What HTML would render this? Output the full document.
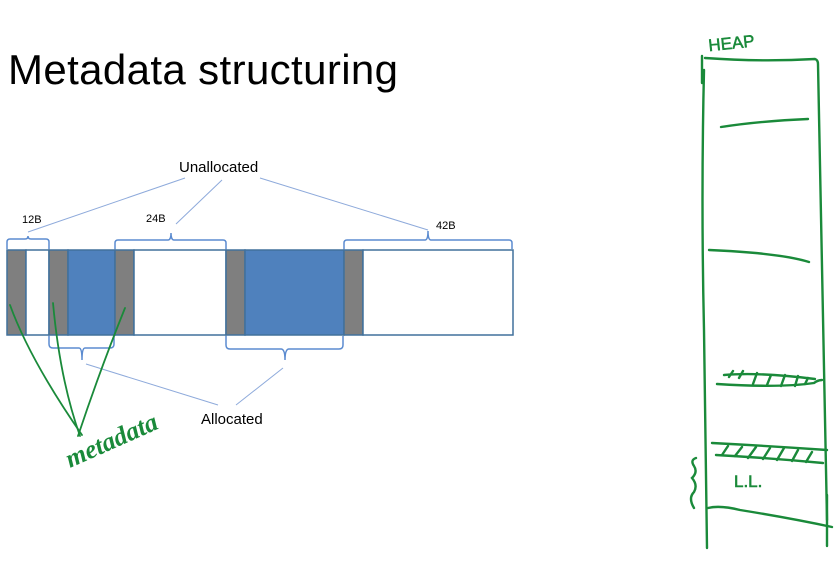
<!DOCTYPE html>
<html><head><style>
html,body{margin:0;padding:0;background:#fff;}
svg{display:block;}
</style></head><body>
<svg width="834" height="565" viewBox="0 0 834 565" xmlns="http://www.w3.org/2000/svg" font-family="Liberation Sans, sans-serif">
<text x="8" y="84" font-size="42" fill="#000" textLength="390">Metadata structuring</text>
<!-- bar -->
<g stroke="#41719c" stroke-width="1.5">
<rect x="7" y="250" width="19" height="85" fill="#7f7f7f"/>
<rect x="26" y="250" width="23" height="85" fill="#fff"/>
<rect x="49" y="250" width="19" height="85" fill="#7f7f7f"/>
<rect x="68" y="250" width="47" height="85" fill="#4f81bd"/>
<rect x="115" y="250" width="19" height="85" fill="#7f7f7f"/>
<rect x="134" y="250" width="92" height="85" fill="#fff"/>
<rect x="226" y="250" width="19" height="85" fill="#7f7f7f"/>
<rect x="245" y="250" width="99" height="85" fill="#4f81bd"/>
<rect x="344" y="250" width="19" height="85" fill="#7f7f7f"/>
<rect x="363" y="250" width="150" height="85" fill="#fff"/>
</g>
<g fill="none" stroke="#5b8bd0" stroke-width="1.5">
<path d="M7,249 V242 Q7,239 10,239 H25 Q28,239 28,236 Q28,239 31,239 H46 Q49,239 49,242 V249"/>
<path d="M115,249 V243 Q115,240 118,240 H168 Q171,240 171,233 Q171,240 174,240 H223 Q226,240 226,243 V249"/>
<path d="M344,249 V243 Q344,240 347,240 H425 Q428,240 428,231 Q428,240 431,240 H509 Q512,240 512,243 V249"/>
<path d="M49,336 V344 Q49,348 53,348 H79 Q82,348 82,360 Q82,348 85,348 H110 Q114,348 114,344 V336"/>
<path d="M226,336 V345 Q226,349 230,349 H281 Q285,349 285,360 Q285,349 289,349 H339 Q343,349 343,345 V336"/>
</g>
<g stroke="#8eaadb" stroke-width="1">
<line x1="185" y1="178" x2="28" y2="232"/>
<line x1="222" y1="180" x2="176" y2="224"/>
<line x1="260" y1="178" x2="428" y2="230"/>
<line x1="86" y1="364" x2="218" y2="405"/>
<line x1="283" y1="368" x2="236" y2="405"/>
</g>
<text x="179" y="172" font-size="15" fill="#000">Unallocated</text>
<text x="201" y="424" font-size="15" fill="#000">Allocated</text>
<text x="22" y="223" font-size="11" fill="#000">12B</text>
<text x="146" y="222" font-size="11" fill="#000">24B</text>
<text x="436" y="229" font-size="11" fill="#000">42B</text>
<!-- green annotations -->
<g stroke="#1a8a3a" stroke-width="1.8" fill="none" stroke-linecap="round">
<path d="M10,305 Q30,360 82,435"/>
<path d="M53,303 Q60,380 80,436"/>
<path d="M125,308 Q100,370 78,436"/>
</g>
<text x="0" y="0" font-size="26" font-style="italic" font-weight="bold" fill="#1a8a3a" font-family="Liberation Serif, serif" transform="translate(70,468) rotate(-24)">metadata</text>
<!-- heap -->
<g stroke="#1a8a3a" stroke-width="2.4" fill="none" stroke-linecap="round">
<path d="M702,56 V83 M704,70 Q701,200 704,330 Q706,450 707,548"/>
<path d="M705,58 Q760,62 815,59 Q818,60 818,64 Q822,300 827,520"/>
<path d="M827,495 V546"/>
<path d="M708,508 Q720,505 740,510 Q790,518 832,527"/>
<path d="M721,127 Q760,121 808,119"/>
<path d="M709,250 Q780,253 809,262"/>
<path d="M724,375 Q760,372 815,379 M717,384 Q780,388 814,383 Q818,380 822,380"/>
<path d="M733,371 L729,377 M743,371 L739,378 M757,373 L753,384 M771,375 L767,385 M785,375 L781,386 M798,376 L795,386 M808,378 L805,384"/>
<path d="M712,443 Q770,446 827,450 M716,455 Q770,458 823,463"/>
<path d="M728,446 L722,455 M742,447 L735,456 M756,447 L748,458 M770,448 L763,459 M784,448 L777,460 M798,450 L792,461 M812,452 L806,462"/>
<path d="M696,458 Q690,460 694,466 Q698,472 692,478 Q698,485 694,492 Q688,498 694,508"/>
</g>
<text x="734" y="487" font-size="17" fill="#1a8a3a" font-family="Liberation Sans, sans-serif" stroke="#1a8a3a" stroke-width="0.6">L.L.</text>
<text x="708" y="48" font-size="17" fill="#1a8a3a" transform="rotate(-6 740 40)" font-family="Liberation Sans, sans-serif" stroke="#1a8a3a" stroke-width="0.5">HEAP</text>
</svg>
</body></html>
